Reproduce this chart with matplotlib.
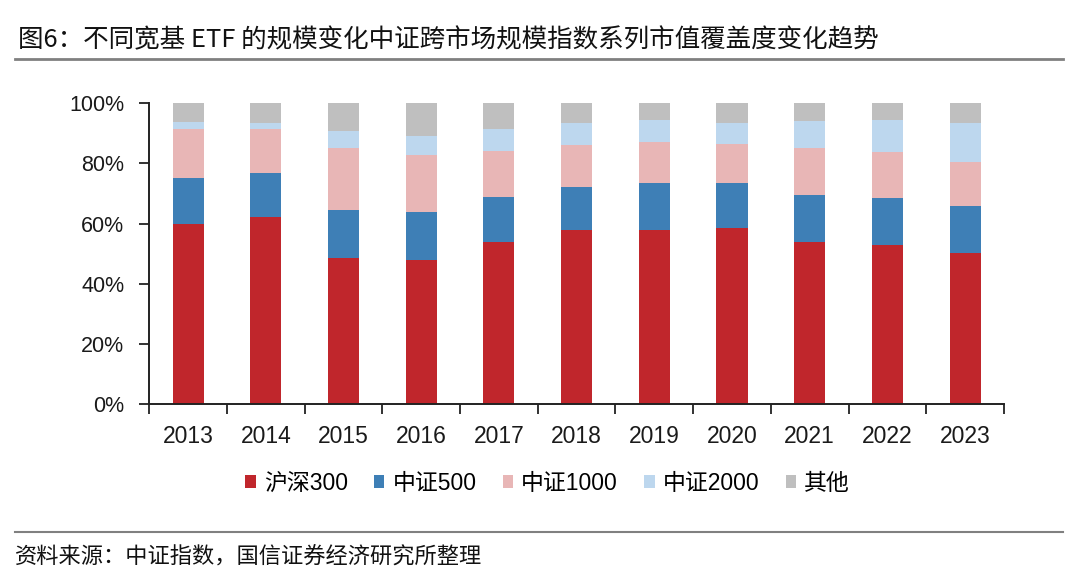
import matplotlib
matplotlib.use("Agg")
import matplotlib.pyplot as plt
from matplotlib.patches import Patch
from matplotlib.lines import Line2D
import numpy as np

plt.rcParams['font.family'] = ['Liberation Sans', 'Noto Sans CJK SC', 'DejaVu Sans']

# data (percent of market value coverage)
years = ['2013', '2014', '2015', '2016', '2017', '2018', '2019', '2020', '2021', '2022', '2023']
hs300 = [60.0, 62.0, 48.4, 48.0, 53.8, 57.7, 58.0, 58.4, 53.8, 52.8, 50.2]
zz500 = [15.2, 14.9, 16.2, 15.9, 14.9, 14.3, 15.3, 14.9, 15.7, 15.7, 15.7]
zz1000 = [16.3, 14.6, 20.4, 18.8, 15.4, 14.2, 13.8, 13.1, 15.5, 15.2, 14.5]
zz2000 = [2.2, 1.9, 5.8, 6.5, 7.4, 7.2, 7.3, 6.9, 9.1, 10.8, 12.8]
other = [6.3, 6.6, 9.2, 10.8, 8.5, 6.6, 5.6, 6.7, 5.9, 5.5, 6.8]

series_names = ['沪深300', '中证500', '中证1000', '中证2000', '其他']
colors = ['#C0262C', '#3E7FB6', '#E8B6B6', '#BDD7EE', '#BFBFBF']

fig = plt.figure(figsize=(10.8, 5.78), dpi=100)
ax = fig.add_axes([0.1382, 0.3005, 0.7914, 0.5213])

x = np.arange(len(years))
bottom = np.zeros(len(years))
for vals, name, c in zip([hs300, zz500, zz1000, zz2000, other], series_names, colors):
    ax.bar(x, vals, width=0.4, bottom=bottom, color=c, label=name, zorder=2)
    bottom += np.array(vals)

ax.set_xlim(-0.5, len(years) - 0.5)
ax.set_ylim(0, 100)
ax.set_yticks(np.arange(0, 101, 20))
ax.set_yticklabels([f'{v}%' for v in range(0, 101, 20)], fontsize=15.5, color='#1a1a1a')
ax.set_xticks(x)
ax.set_xticklabels(years, fontsize=16.5, color='#1a1a1a')
ax.set_xticks(np.arange(-0.5, len(years), 1), minor=True)
ax.tick_params(axis='x', which='major', length=0, pad=15)
ax.tick_params(axis='x', which='minor', length=7, width=1.3, direction='out', color='#222222')
ax.tick_params(axis='y', length=7, width=1.3, direction='out', pad=11, color='#222222')

for s in ['top', 'right']:
    ax.spines[s].set_visible(False)
for s in ['left', 'bottom']:
    ax.spines[s].set_linewidth(1.4)
    ax.spines[s].set_color('#222222')

handles = [Patch(facecolor=c, edgecolor='none') for c in colors]
fig.legend(handles, series_names, loc='center', bbox_to_anchor=(0.507, 0.164),
           ncol=5, frameon=False, fontsize=16.5, handlelength=0.45, handleheight=0.45,
           handletextpad=0.35, columnspacing=1.15)

# title and source
fig.text(18 / 1080, 1 - 40 / 578, '图6：不同宽基 ETF 的规模变化中证跨市场规模指数系列市值覆盖度变化趋势',
         fontsize=18.4, va='center', ha='left', color='#111111',
         family=['Noto Sans CJK SC', 'DejaVu Sans'])
fig.add_artist(Line2D([15 / 1080, 1063 / 1080], [1 - 59 / 578, 1 - 59 / 578],
                      color='#808080', linewidth=2))
fig.add_artist(Line2D([15 / 1080, 1063 / 1080], [1 - 532 / 578, 1 - 532 / 578],
                      color='#808080', linewidth=1.5))
fig.text(15 / 1080, 1 - 557 / 578, '资料来源：中证指数，国信证券经济研究所整理',
         fontsize=16, va='center', ha='left', color='#111111',
         family=['Noto Sans CJK SC', 'DejaVu Sans'])

fig.savefig('out.png', dpi=100, facecolor='white')
